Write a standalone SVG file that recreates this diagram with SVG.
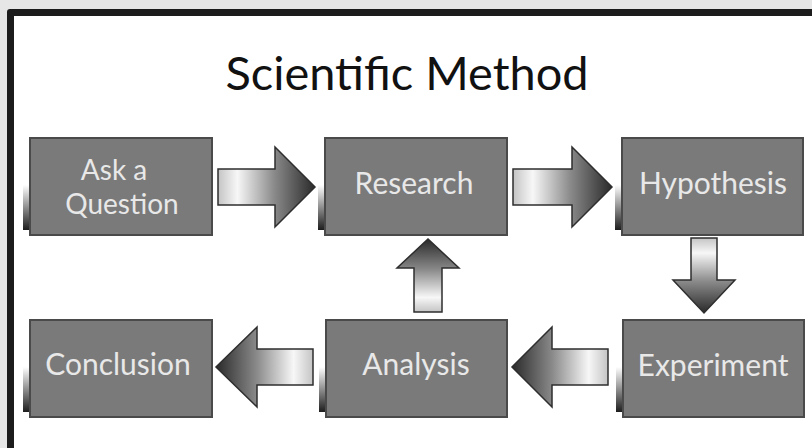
<svg xmlns="http://www.w3.org/2000/svg" width="812" height="448" viewBox="0 0 812 448">
<style>
.box{fill:#7a7a7a;stroke:#4a4a4a;stroke-width:2}
.lbl{font-family:Lato,"Open Sans","DejaVu Sans",sans-serif;font-size:30px;fill:#e8e8e8;text-anchor:middle}
.arr{stroke:#2e2e2e;stroke-width:1.5;stroke-linejoin:miter}
.sh{fill:url(#shadow)}
</style>
<defs>
<linearGradient id="gR" x1="0" y1="0" x2="1" y2="0">
<stop offset="0" stop-color="#c4c4c4"/><stop offset="0.2" stop-color="#f7f7f7"/><stop offset="0.58" stop-color="#8a8a8a"/><stop offset="1" stop-color="#2a2a2a"/>
</linearGradient>
<linearGradient id="gL" x1="1" y1="0" x2="0" y2="0">
<stop offset="0" stop-color="#c4c4c4"/><stop offset="0.2" stop-color="#f7f7f7"/><stop offset="0.58" stop-color="#8a8a8a"/><stop offset="1" stop-color="#2a2a2a"/>
</linearGradient>
<linearGradient id="gD" x1="0" y1="0" x2="0" y2="1">
<stop offset="0" stop-color="#c4c4c4"/><stop offset="0.2" stop-color="#f7f7f7"/><stop offset="0.58" stop-color="#8a8a8a"/><stop offset="1" stop-color="#2a2a2a"/>
</linearGradient>
<linearGradient id="gU" x1="0" y1="1" x2="0" y2="0">
<stop offset="0" stop-color="#c4c4c4"/><stop offset="0.2" stop-color="#f7f7f7"/><stop offset="0.58" stop-color="#8a8a8a"/><stop offset="1" stop-color="#2a2a2a"/>
</linearGradient>
<linearGradient id="shadow" x1="0" y1="0" x2="0" y2="1">
<stop offset="0" stop-color="#111" stop-opacity="0"/><stop offset="1" stop-color="#111" stop-opacity="0.95"/>
</linearGradient>
</defs>
<rect x="0" y="0" width="812" height="448" fill="#e6e6e6"/>
<rect x="7" y="9" width="830" height="460" rx="3" fill="#1c1c1c"/>
<rect x="14" y="16" width="820" height="450" fill="#ffffff"/>
<text x="407" y="90" font-family="Lato,'Open Sans','DejaVu Sans',sans-serif" font-size="46" fill="#111" text-anchor="middle" textLength="363" lengthAdjust="spacingAndGlyphs">Scientific Method</text>

<g id="connectors">
<path class="arr" fill="url(#gR)" d="M218,169 H275 V147 L315,187 L275,227 V205 H218 Z"/>
<path class="arr" fill="url(#gR)" d="M513,169 H572 V147 L612,187 L572,227 V205 H513 Z"/>
<path class="arr" fill="url(#gD)" d="M691,238 V280 H673 L704,313 L735,280 H717 V238 Z"/>
<path class="arr" fill="url(#gL)" d="M608,349 H552 V327 L512,367 L552,407 V385 H608 Z"/>
<path class="arr" fill="url(#gL)" d="M313,349 H257 V327 L216,367 L257,407 V385 H313 Z"/>
<path class="arr" fill="url(#gU)" d="M414,312 V268 H397 L428,239 L459,268 H442 V312 Z"/>
</g>

<g id="ask">
<rect class="sh" x="23" y="185" width="8" height="45"/>
<rect class="box" x="30" y="138" width="182" height="97"/>
<text class="lbl" x="114" y="180" style="font-size:28px">Ask a</text>
<text class="lbl" x="122" y="214" style="font-size:28px">Question</text>
</g>
<g id="research">
<rect class="sh" x="318" y="185" width="8" height="45"/>
<rect class="box" x="325" y="138" width="182" height="97"/>
<text class="lbl" x="414" y="194">Research</text>
</g>
<g id="hypothesis">
<rect class="sh" x="615" y="185" width="8" height="45"/>
<rect class="box" x="622" y="138" width="181" height="97"/>
<text class="lbl" x="713" y="194">Hypothesis</text>
</g>
<g id="conclusion">
<rect class="sh" x="23" y="367" width="8" height="45"/>
<rect class="box" x="30" y="320" width="182" height="97"/>
<text class="lbl" x="118" y="375">Conclusion</text>
</g>
<g id="analysis">
<rect class="sh" x="319" y="367" width="8" height="45"/>
<rect class="box" x="326" y="320" width="181" height="97"/>
<text class="lbl" x="416" y="375">Analysis</text>
</g>
<g id="experiment">
<rect class="sh" x="616" y="367" width="8" height="45"/>
<rect class="box" x="623" y="320" width="181" height="97"/>
<text class="lbl" x="713" y="376">Experiment</text>
</g>
</svg>
